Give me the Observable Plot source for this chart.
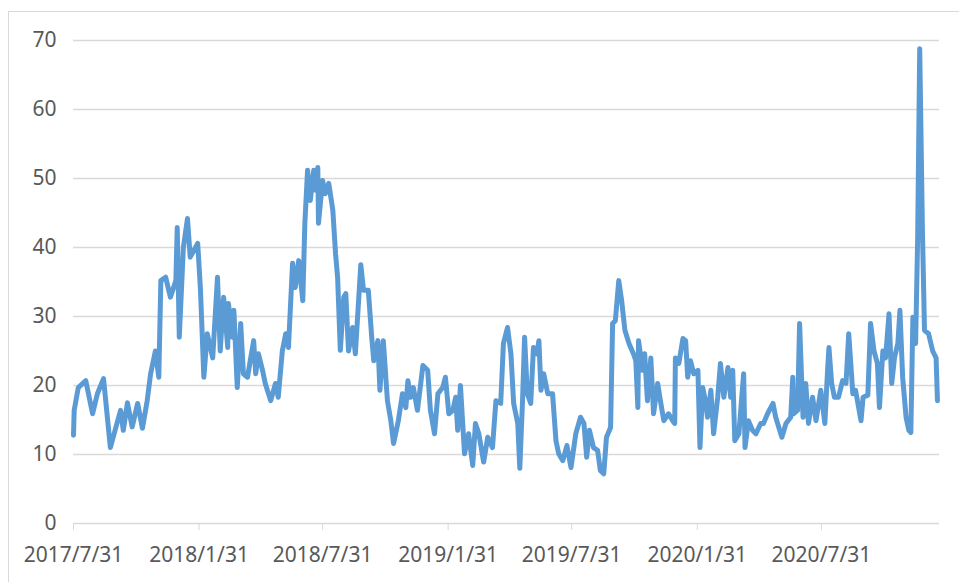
<!DOCTYPE html>
<html>
<head>
<meta charset="utf-8">
<script src="https://cdn.jsdelivr.net/npm/d3@7"></script>
<script src="https://cdn.jsdelivr.net/npm/@observablehq/plot@0.6"></script>
<style>
  html, body { margin: 0; padding: 0; background: #fff; }
  #wrap { position: relative; width: 959px; height: 582px; overflow: hidden; }
  #border { position: absolute; left: 8px; top: 11px; width: 1000px; height: 700px; border: 1px solid #d9d9d9; pointer-events: none; }
</style>
</head>
<body>
<div id="wrap"><div id="border"></div></div>
<script>
const startDate = "2017-07-31";
const endOffset = 1269; // days shown on the axis
const xTickDates = ["2017-07-31", "2018-01-31", "2018-07-31", "2019-01-31", "2019-07-31", "2020-01-31", "2020-07-31"];
const xTickLabels = ["2017/7/31", "2018/1/31", "2018/7/31", "2019/1/31", "2019/7/31", "2020/1/31", "2020/7/31"];
const yTicks = [0, 10, 20, 30, 40, 50, 60, 70];

const dayOffsets = [
  0, 1, 7, 18, 28, 35, 44, 54, 62, 69, 73, 79, 86, 94, 101, 108, 113, 120, 125, 128,
  135, 142, 150, 152, 155, 161, 167, 171, 182, 186, 191, 196, 204, 211, 215, 220, 226, 227, 233, 235,
  240, 245, 249, 255, 259, 264, 267, 271, 277, 281, 289, 296, 300, 306, 311, 315, 321, 325, 330, 336,
  339, 343, 347, 352, 355, 358, 359, 365, 369, 374, 380, 384, 387, 391, 396, 399, 403, 409, 413, 421,
  425, 432, 437, 440, 446, 449, 454, 460, 465, 469, 476, 482, 487, 490, 494, 498, 504, 512, 519, 523,
  529, 534, 541, 545, 550, 556, 560, 563, 567, 573, 579, 585, 589, 594, 601, 607, 614, 619, 626, 630,
  636, 641, 645, 651, 654, 658, 661, 665, 670, 674, 679, 682, 685, 689, 695, 702, 707, 711, 717, 723,
  729, 736, 743, 748, 752, 756, 762, 768, 772, 777, 781, 787, 790, 794, 799, 803, 808, 814, 821, 824,
  827, 828, 834, 837, 841, 846, 850, 856, 860, 865, 872, 878, 881, 882, 887, 893, 897, 900, 904, 909,
  915, 918, 922, 926, 929, 934, 938, 944, 948, 953, 959, 963, 966, 969, 975, 982, 984, 989, 995, 1000,
  1007, 1011, 1017, 1025, 1029, 1038, 1044, 1051, 1054, 1055, 1061, 1064, 1069, 1073, 1077, 1083, 1088, 1095, 1101, 1105,
  1107, 1111, 1115, 1121, 1127, 1132, 1136, 1142, 1146, 1154, 1157, 1164, 1168, 1173, 1178, 1181, 1186, 1190, 1195, 1199,
  1203, 1208, 1211, 1215, 1220, 1224, 1227, 1230, 1234, 1237, 1240, 1244, 1247, 1253, 1259, 1264, 1266
];
const values = [
  12.8, 16.4, 19.7, 20.7, 15.9, 18.8, 21.0, 11.0, 13.9, 16.4, 13.5, 17.5, 14.0, 17.4, 13.8, 17.8, 21.7, 25.0, 21.2, 35.2,
  35.7, 32.8, 35.2, 42.9, 27.0, 40.0, 44.2, 38.6, 40.6, 34.0, 21.2, 27.5, 24.0, 35.7, 25.0, 32.8, 25.5, 31.9, 27.0, 30.9,
  19.7, 29.0, 21.7, 21.2, 23.6, 26.5, 21.7, 24.6, 22.2, 20.3, 17.8, 20.3, 18.3, 25.0, 27.5, 25.5, 37.7, 34.2, 38.1, 32.3,
  43.5, 51.2, 46.8, 51.2, 48.3, 51.6, 43.5, 49.7, 47.8, 49.3, 45.4, 39.1, 35.7, 25.1, 32.8, 33.3, 25.0, 28.4, 24.6, 37.5,
  33.8, 33.8, 27.0, 23.6, 26.5, 19.3, 26.5, 17.8, 14.9, 11.6, 14.9, 18.8, 16.8, 20.7, 18.3, 19.7, 16.4, 22.9, 22.2, 16.4,
  13.0, 18.8, 19.7, 21.2, 15.9, 16.4, 18.3, 13.5, 20.0, 10.1, 13.0, 8.4, 14.5, 13.0, 8.9, 12.5, 11.0, 17.8, 17.4, 26.1,
  28.4, 24.6, 17.4, 14.5, 8.0, 17.8, 27.0, 18.8, 17.4, 25.5, 24.6, 26.5, 19.3, 21.7, 18.8, 18.8, 12.0, 10.1, 9.1, 11.3,
  8.1, 13.0, 15.4, 14.5, 9.6, 13.5, 11.0, 10.6, 7.7, 7.2, 12.5, 13.9, 29.0, 29.4, 35.2, 32.5, 28.0, 26.1, 24.5, 23.6,
  16.8, 26.5, 22.2, 24.6, 17.8, 24.0, 15.9, 20.3, 17.8, 14.9, 15.9, 14.9, 14.5, 24.0, 23.2, 26.8, 26.5, 21.2, 23.6, 21.7,
  22.2, 11.0, 19.7, 17.8, 15.4, 19.3, 13.0, 18.3, 23.2, 18.3, 22.6, 18.3, 22.2, 12.0, 13.0, 21.7, 11.0, 14.9, 13.5, 13.0,
  14.5, 14.5, 15.9, 17.4, 15.4, 12.5, 14.5, 15.4, 21.2, 15.9, 16.4, 29.0, 15.4, 20.3, 14.5, 18.3, 14.9, 19.3, 14.5, 22.2,
  25.5, 20.3, 18.3, 18.3, 20.7, 20.3, 27.5, 18.8, 19.3, 14.9, 18.3, 18.6, 29.0, 25.0, 23.2, 16.8, 25.0, 24.0, 30.4, 20.3,
  24.0, 26.1, 30.9, 21.2, 15.4, 13.5, 13.2, 29.9, 26.1, 41.4, 68.8, 42.5, 28.0, 27.5, 25.0, 24.0, 17.8
];

const start = new Date(startDate + "T00:00:00Z");
const series = dayOffsets.map((d, i) => ({ date: d3.utcDay.offset(start, d), value: values[i] }));
const xTicks = xTickDates.map(s => new Date(s + "T00:00:00Z"));
const labelOf = new Map(xTicks.map((t, i) => [+t, xTickLabels[i]]));
const xDomain = [start, d3.utcDay.offset(start, endOffset)];

const gridColor = "#d9d9d9";
const textColor = "#595959";

const chart = Plot.plot({
  width: 959,
  height: 582,
  marginLeft: 73,
  marginRight: 20,
  marginTop: 40,
  marginBottom: 59,
  style: { fontFamily: "'Noto Sans', 'Open Sans', sans-serif", fontSize: "21px", color: textColor, background: "transparent" },
  x: { type: "utc", domain: xDomain },
  y: { domain: [0, 70] },
  marks: [
    Plot.ruleY(yTicks, { stroke: gridColor, strokeWidth: 1.3 }),
    Plot.line(series, { x: "date", y: "value", stroke: "#5b9bd5", strokeWidth: 5, strokeLinejoin: "round", strokeLinecap: "round" }),
    Plot.axisY({ ticks: yTicks, tickSize: 0, tickPadding: 17, label: null, fill: textColor }),
    Plot.axisX({ ticks: xTicks, tickFormat: d => labelOf.get(+d), tickSize: 7, tickPadding: 17, stroke: gridColor, label: null, fill: textColor })
  ]
});
document.getElementById("wrap").appendChild(chart);
chart.style.position = "absolute";
chart.style.left = "0";
chart.style.top = "0";
</script>
</body>
</html>
